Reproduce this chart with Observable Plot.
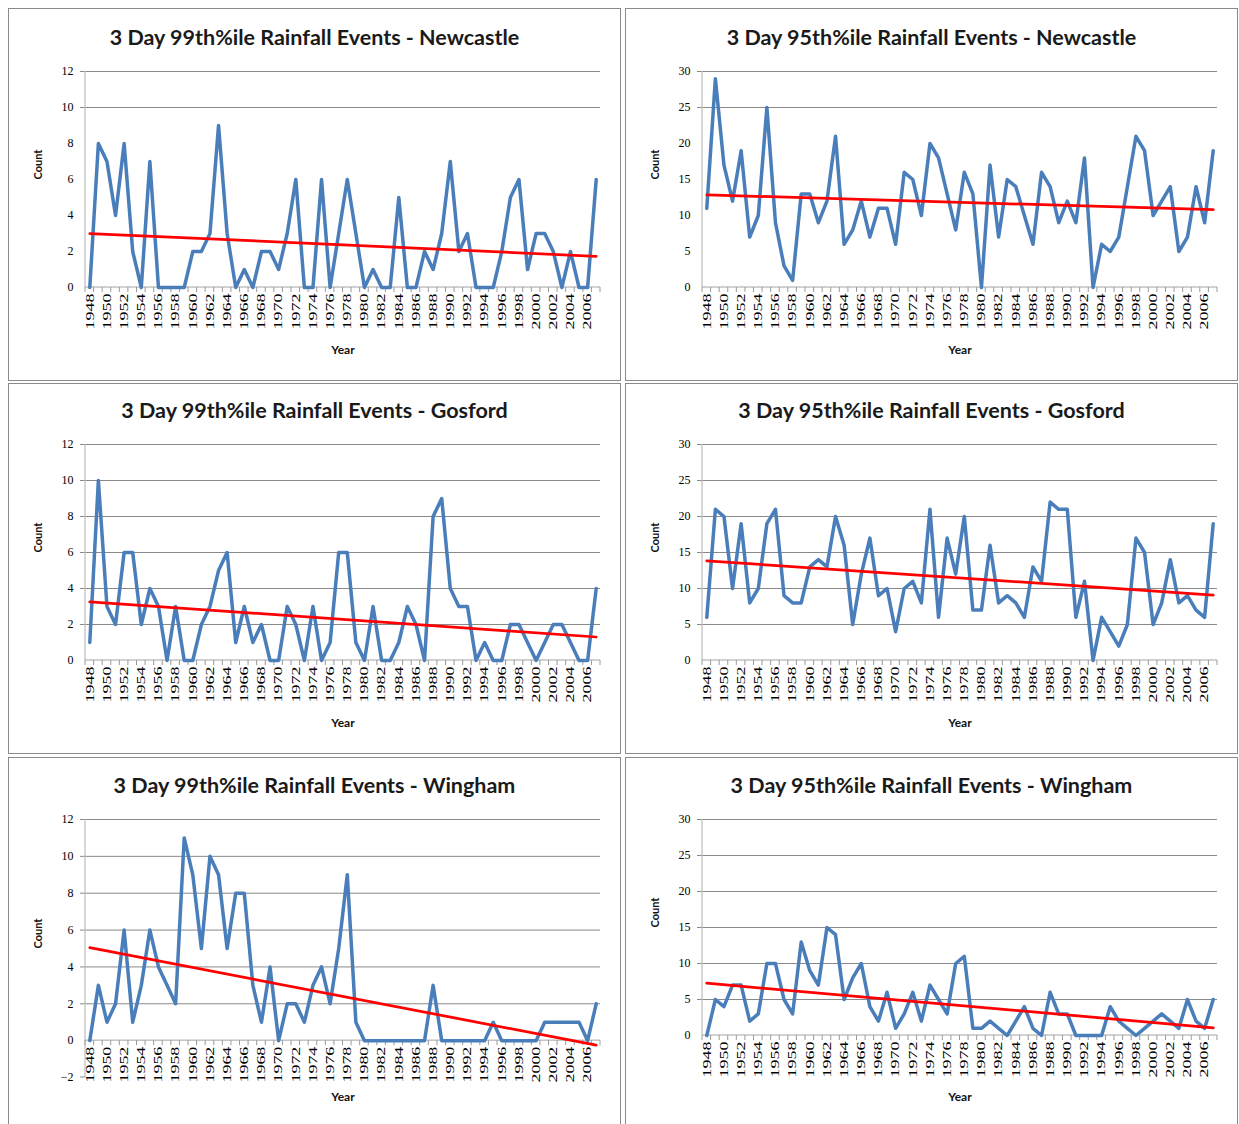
<!DOCTYPE html>
<html><head><meta charset="utf-8">
<script src="https://cdn.jsdelivr.net/npm/d3@7"></script>
<script src="https://cdn.jsdelivr.net/npm/@observablehq/plot@0.6"></script>
<style>
html,body{margin:0;padding:0;background:#fff;width:1239px;height:1124px;overflow:hidden;position:relative}
.panel{position:absolute;border:1px solid #8a8a8a;background:#fff;box-sizing:border-box;overflow:hidden}
.title{font-family:Lato,"Open Sans",sans-serif;font-weight:bold;font-size:21.5px;color:#1a1a1a;text-align:center;white-space:nowrap}
.panel svg{display:block}
</style></head><body>
<script>
const years = [1948,1949,1950,1951,1952,1953,1954,1955,1956,1957,1958,1959,1960,1961,1962,1963,1964,1965,1966,1967,
  1968,1969,1970,1971,1972,1973,1974,1975,1976,1977,1978,1979,1980,1981,1982,1983,1984,1985,1986,1987,
  1988,1989,1990,1991,1992,1993,1994,1995,1996,1997,1998,1999,2000,2001,2002,2003,2004,2005,2006,2007];
const yearLabels = [1948,1950,1952,1954,1956,1958,1960,1962,1964,1966,1968,1970,1972,1974,1976,1978,1980,1982,1984,1986,
  1988,1990,1992,1994,1996,1998,2000,2002,2004,2006];

const newcastle99 = [0,8,7,4,8,2,0,7,0,0, 0,0,2,2,3,9,3,0,1,0, 2,2,1,3,6,0,0,6,0,3, 6,3,0,1,0,0,5,0,0,2, 1,3,7,2,3,0,0,0,2,5, 6,1,3,3,2,0,2,0,0,6];
const newcastle95 = [11,29,17,12,19,7,10,25,9,3, 1,13,13,9,12,21,6,8,12,7, 11,11,6,16,15,10,20,18,13,8, 16,13,0,17,7,15,14,10,6,16, 14,9,12,9,18,0,6,5,7,14, 21,19,10,12,14,5,7,14,9,19];
const gosford99 = [1,10,3,2,6,6,2,4,3,0, 3,0,0,2,3,5,6,1,3,1, 2,0,0,3,2,0,3,0,1,6, 6,1,0,3,0,0,1,3,2,0, 8,9,4,3,3,0,1,0,0,2, 2,1,0,1,2,2,1,0,0,4];
const gosford95 = [6,21,20,10,19,8,10,19,21,9, 8,8,13,14,13,20,16,5,12,17, 9,10,4,10,11,8,21,6,17,12, 20,7,7,16,8,9,8,6,13,11, 22,21,21,6,11,0,6,4,2,5, 17,15,5,8,14,8,9,7,6,19];
const wingham99 = [0,3,1,2,6,1,3,6,4,3, 2,11,9,5,10,9,5,8,8,3, 1,4,0,2,2,1,3,4,2,5, 9,1,0,0,0,0,0,0,0,0, 3,0,0,0,0,0,0,1,0,0, 0,0,0,1,1,1,1,1,0,2];
const wingham95 = [0,5,4,7,7,2,3,10,10,5, 3,13,9,7,15,14,5,8,10,4, 2,6,1,3,6,2,7,5,3,10, 11,1,1,2,1,0,2,4,1,0, 6,3,3,0,0,0,0,4,2,1, 0,1,2,3,2,1,5,2,1,5];

const ticks12 = [0,2,4,6,8,10,12];
const ticks12neg = [-2,0,2,4,6,8,10,12];
const ticks30 = [0,5,10,15,20,25,30];

const rows = [
  {top: 8, height: 373, titleH: 56, marginTop: 6},
  {top: 383, height: 371, titleH: 52, marginTop: 8},
  {top: 757, height: 400, titleH: 54, marginTop: 7}
];
const cols = [{left: 8, width: 613}, {left: 625, width: 613}];

const panels = [
  {row:0, col:0, title:"3 Day 99th%ile Rainfall Events - Newcastle", values:newcastle99, yDomain:[0,12], yTicks:ticks12, grid:[10,12], shortTicks:[], plotH:216, svgH:315, yearDy:66},
  {row:0, col:1, title:"3 Day 95th%ile Rainfall Events - Newcastle", values:newcastle95, yDomain:[0,30], yTicks:ticks30, grid:[25,30], shortTicks:[], plotH:216, svgH:315, yearDy:66},
  {row:1, col:0, title:"3 Day 99th%ile Rainfall Events - Gosford", values:gosford99, yDomain:[0,12], yTicks:ticks12, grid:[2,4,6,8,10,12], shortTicks:[], plotH:216, svgH:317, yearDy:66},
  {row:1, col:1, title:"3 Day 95th%ile Rainfall Events - Gosford", values:gosford95, yDomain:[0,30], yTicks:ticks30, grid:[5,10,15,20,25,30], shortTicks:[], plotH:216, svgH:317, yearDy:66},
  {row:2, col:0, title:"3 Day 99th%ile Rainfall Events - Wingham", values:wingham99, yDomain:[-2,12], yTicks:ticks12neg, grid:[2,4,6,8,10,12], shortTicks:[-2], plotH:258, svgH:340, yearDy:23},
  {row:2, col:1, title:"3 Day 95th%ile Rainfall Events - Wingham", values:wingham95, yDomain:[0,30], yTicks:ticks30, grid:[5,10,15,20,25,30], shortTicks:[], plotH:216, svgH:340, yearDy:65}
];

const yBase = 0;
const serif = "'Liberation Serif', 'Times New Roman', serif";
const sans = "Lato, 'Open Sans', sans-serif";

for (const p of panels) {
  const r = rows[p.row], c = cols[p.col];
  const panel = document.createElement("div");
  panel.className = "panel";
  Object.assign(panel.style, {left: c.left + "px", top: r.top + "px", width: c.width + "px", height: r.height + "px"});
  const title = document.createElement("div");
  title.className = "title";
  title.style.height = r.titleH + "px";
  title.style.lineHeight = r.titleH + "px";
  title.textContent = p.title;
  panel.appendChild(title);

  const data = years.map((yr, i) => ({year: yr, count: p.values[i]}));
  const boundaries = [years[0] - 0.5, ...years.map(yr => yr + 0.5)];

  const decor = (index, scales, values, dim) => {
    const g = d3.create("svg:g");
    const x = scales.x, y = scales.y;
    const left = dim.marginLeft, right = dim.width - dim.marginRight;
    const top = dim.marginTop, bottom = dim.height - dim.marginBottom;
    g.append("line").attr("x1", left).attr("x2", left).attr("y1", top).attr("y2", bottom)
      .attr("stroke", "#bdbdbd").attr("stroke-width", 1.2);
    const y0 = y(yBase);
    g.append("line").attr("x1", left).attr("x2", right).attr("y1", y0).attr("y2", y0)
      .attr("stroke", "#a3a3a3").attr("stroke-width", 1);
    for (const b of boundaries) {
      g.append("line").attr("x1", x(b)).attr("x2", x(b)).attr("y1", y0).attr("y2", y0 + 5)
        .attr("stroke", "#9a9a9a").attr("stroke-width", 1);
    }
    for (const v of p.shortTicks) {
      g.append("line").attr("x1", left - 5).attr("x2", left).attr("y1", y(v)).attr("y2", y(v))
        .attr("stroke", "#898989").attr("stroke-width", 1);
    }
    return g.node();
  };

  const mt = r.marginTop;
  const svg = Plot.plot({
    width: c.width - 2,
    height: p.svgH,
    marginLeft: 76,
    marginRight: 20,
    marginTop: mt,
    marginBottom: p.svgH - mt - p.plotH,
    x: {domain: [years[0] - 0.5, years[years.length - 1] + 0.5], axis: null},
    y: {domain: p.yDomain},
    style: {fontFamily: serif, fontSize: "12px", color: "#000", background: "transparent", overflow: "visible"},
    marks: [
      Plot.ruleY(p.grid, {stroke: "#898989", strokeWidth: 1, insetLeft: -5}),
      decor,
      Plot.axisY({ticks: p.yTicks, tickSize: 0, tickPadding: 12, label: null, fontSize: 12, fontFamily: serif, fill: "#000"}),
      Plot.lineY(data, {x: "year", y: "count", stroke: "#4a7ebb", strokeWidth: 3.5, strokeLinejoin: "round"}),
      Plot.linearRegressionY(data, {x: "year", y: "count", stroke: "#ff0000", strokeWidth: 2.75, ci: 0}),
      Plot.text(yearLabels, {x: d => d, y: d => yBase, text: d => String(d), rotate: -90, textAnchor: "end", dy: 6, fontSize: 12, fontFamily: serif, fill: "#000"}),
      Plot.text(["Count"], {frameAnchor: "left", dx: -47, rotate: -90, text: d => d, fontFamily: sans, fontWeight: "bold", fontSize: 11, fill: "#111"}),
      Plot.text(["Year"], {frameAnchor: "bottom", dy: p.yearDy, text: d => d, fontFamily: sans, fontWeight: "bold", fontSize: 12, fill: "#111"})
    ]
  });
  // stretch the rotated year labels along their reading direction, as in the reference
  d3.select(svg).selectAll("text").each(function() {
    const t = this.getAttribute("transform") || "";
    if (/rotate\(-90\)/.test(t) && /^\d{4}$/.test(this.textContent.trim())) {
      this.setAttribute("transform", t + " scale(1.5,1)");
    }
  });
  panel.appendChild(svg);
  document.body.appendChild(panel);
}
</script>
</body></html>
